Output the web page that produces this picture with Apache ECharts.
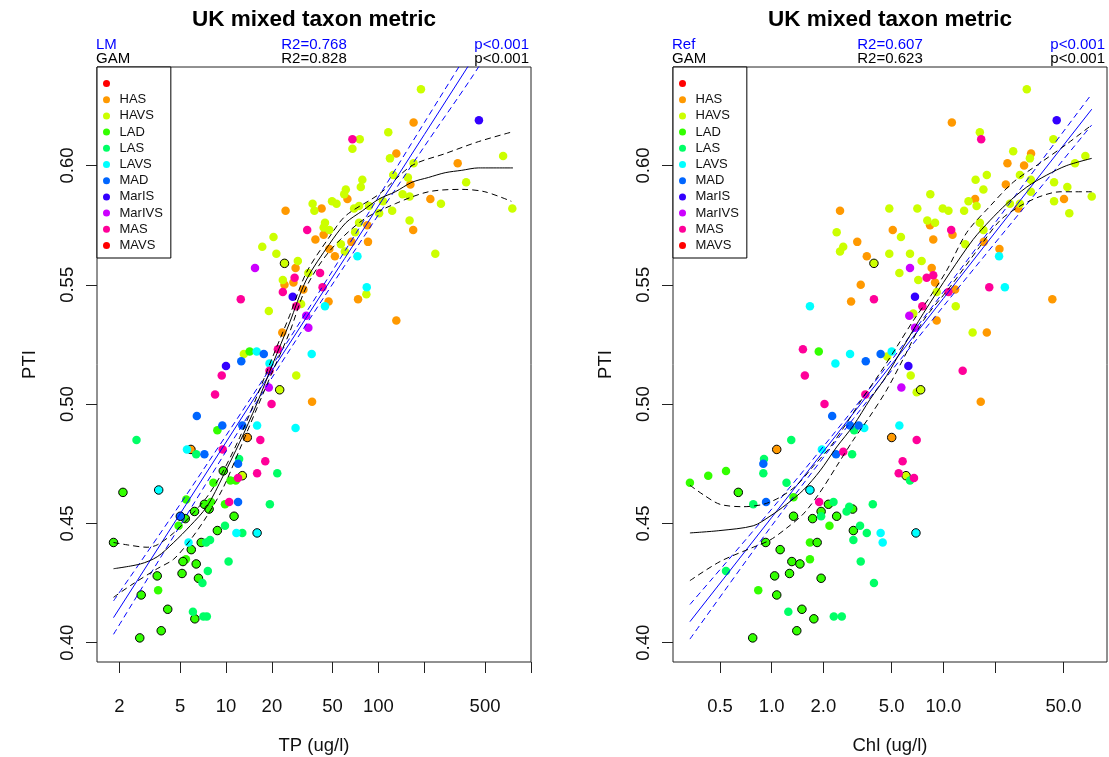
<!DOCTYPE html>
<html><head><meta charset="utf-8">
<script src="https://cdn.jsdelivr.net/npm/echarts@6/dist/echarts.min.js"></script>
<style>html,body{margin:0;padding:0;background:#fff}#c{width:1109px;height:757px}</style>
</head><body><div id="c"></div>
<script>
// ---------- DATA (x in ug/l, PTI, outlined flag) ----------
const groupNames = [' ', 'HAS', 'HAVS', 'LAD', 'LAS', 'LAVS', 'MAD', 'MarIS', 'MarIVS', 'MAS', 'MAVS'];
const groupColors = ['#FF0000', '#FF9900', '#CCFF00', '#33FF00', '#00FF66', '#00FFFF', '#0066FF', '#3300FF', '#CC00FF', '#FF0099', '#FF0000'];

const tpTicks = [2, 5, 10, 20, 50, 100, 200, 500, 1000];
const tpLabels = [2, 5, 10, 20, 50, 100, 500];
const chlTicks = [0.5, 1, 2, 5, 10, 20, 50];
const chlLabels = [0.5, 1, 2, 5, 10, 50];
const ptiTicks = [0.40, 0.45, 0.50, 0.55, 0.60];

// ---- Left panel: TP ----
const tpHAS = [[28.6,0.557],[24.2,0.550],[27.7,0.551],[32.2,0.548],[23.4,0.530],[13.8,0.486,1],[5.89,0.481,1],[170,0.618],[131,0.605],[331,0.601],[162,0.592],[62.6,0.586],[219,0.586],[42.4,0.582],[24.6,0.581],[169,0.573],[84.5,0.575],[43.7,0.571],[38.6,0.569],[66.5,0.568],[85.4,0.568],[47.6,0.565],[51.8,0.562],[73.5,0.544],[47.1,0.543],[131,0.535],[36.7,0.501]];
const tpHAVS = [[24.2,0.559,1],[23.6,0.552],[31.1,0.542],[19.1,0.539],[13.1,0.521],[28.9,0.512],[22.5,0.506,1],[12.8,0.470,1],[190,0.632],[75.4,0.611],[116,0.614],[67.5,0.607],[119,0.603],[657,0.604],[170,0.601],[125,0.596],[156,0.595],[78.4,0.594],[76.6,0.591],[376,0.593],[144,0.588],[160,0.587],[61.1,0.590],[59.6,0.588],[257,0.584],[755,0.582],[49.6,0.585],[53.1,0.584],[37.0,0.584],[38.0,0.581],[69.2,0.582],[74.6,0.583],[86.7,0.583],[107,0.585],[101,0.580],[123,0.581],[160,0.577],[74.6,0.576],[44.6,0.576],[43.7,0.574],[47.6,0.573],[70.3,0.572],[56.7,0.567],[60.2,0.564],[236,0.563],[29.6,0.560],[34.7,0.555],[83.3,0.546],[20.5,0.570],[17.3,0.566],[21.4,0.563]];
const tpLAD = [[14.3,0.522],[8.78,0.489],[9.60,0.472,1],[10.7,0.468],[11.6,0.468],[8.27,0.467],[2.11,0.463,1],[5.49,0.460],[6.22,0.455,1],[7.22,0.458,1],[7.75,0.456,1],[7.98,0.459],[9.85,0.458],[5.41,0.452,1],[4.89,0.449],[11.3,0.453,1],[8.78,0.447,1],[1.83,0.442,1],[5.92,0.439,1],[6.88,0.442,1],[5.46,0.435],[5.22,0.434,1],[6.38,0.433,1],[3.54,0.428,1],[5.15,0.429,1],[6.60,0.427,1],[3.59,0.422],[2.78,0.420,1],[4.15,0.414,1],[6.25,0.410,1],[3.76,0.405,1],[2.72,0.402,1]];
const tpLAS = [[2.59,0.485],[12.2,0.477],[21.7,0.471],[19.4,0.458],[9.85,0.449],[12.8,0.446],[7.41,0.442],[7.86,0.443],[10.4,0.434],[7.60,0.430],[7.01,0.425],[6.07,0.413],[7.11,0.411],[7.49,0.411],[6.38,0.479]];
const tpLAVS = [[15.9,0.522],[19.3,0.517],[16.0,0.491],[28.6,0.490],[5.55,0.481],[3.62,0.464,1],[11.7,0.446],[16.0,0.446,1],[5.68,0.442],[72.8,0.562],[83.8,0.549],[44.6,0.541],[36.5,0.521]];
const tpMAD = [[17.7,0.521],[12.6,0.518],[6.44,0.495],[9.46,0.491],[12.8,0.491],[7.22,0.479],[12.0,0.475],[12.0,0.459],[5.02,0.453,1]];
const tpMarIS = [[27.4,0.545],[10.0,0.516],[456,0.619]];
const tpMarIVS = [[15.5,0.557],[33.6,0.537],[34.7,0.532],[19.1,0.507]];
const tpMAS = [[28.2,0.553],[23.6,0.547],[12.5,0.544],[28.9,0.541],[21.9,0.523],[19.3,0.514],[9.38,0.512],[8.48,0.504],[19.9,0.500],[16.8,0.485],[9.52,0.481],[18.1,0.476],[12.0,0.469],[16.0,0.471],[10.5,0.459],[67.5,0.611],[34.1,0.573],[41.4,0.555],[43.0,0.549]];
const tpMAVS = [];
const tpBlank = [];

const tpGam = [[1.83,0.431],[2.75,0.433],[3.54,0.436],[4.54,0.442],[5.83,0.449],[7.49,0.457],[9.60,0.470],[12.3,0.484],[15.9,0.500],[20.3,0.517],[26.1,0.534],[33.6,0.552],[47.6,0.567],[61.1,0.576],[78.4,0.581],[101,0.586],[129,0.589],[166,0.593],[213,0.595],[274,0.597],[352,0.598],[452,0.599],[763,0.599]];
const tpGamUpper = [[1.83,0.442],[2.25,0.441],[3.04,0.440],[3.54,0.441],[4.54,0.446],[5.83,0.453],[7.49,0.461],[9.60,0.472],[12.3,0.486],[15.9,0.503],[20.3,0.520],[26.1,0.537],[33.6,0.555],[47.6,0.570],[61.1,0.579],[101,0.588],[166,0.600],[274,0.605],[452,0.610],[744,0.614]];
const tpGamLower = [[1.83,0.419],[2.37,0.424],[3.54,0.431],[4.54,0.435],[5.83,0.443],[7.49,0.453],[9.60,0.465],[12.3,0.481],[15.9,0.498],[20.3,0.514],[26.1,0.530],[33.6,0.549],[47.6,0.564],[78.4,0.577],[129,0.584],[213,0.589],[352,0.590],[499,0.589],[744,0.585]];
const tpLm = [[1.83,0.4105],[5,0.454],[20,0.514],[60,0.561],[200,0.613],[400,0.643]];
const tpLmUpper = [[1.83,0.4175],[5,0.458],[20,0.516],[60,0.564],[200,0.618],[400,0.649]];
const tpLmLower = [[1.83,0.4035],[5,0.449],[20,0.511],[60,0.558],[200,0.608],[400,0.636],[700,0.660]];

// ---- Right panel: Chl ----
const chlHAS = [[3.58,0.562],[8.55,0.557],[8.94,0.551],[3.30,0.550],[2.90,0.543],[9.14,0.535],[5.00,0.486,1],[1.07,0.481,1],[11.2,0.618],[32.4,0.605],[23.6,0.601],[29.5,0.600],[23.1,0.592],[15.3,0.586],[50.4,0.586],[27.3,0.582],[2.50,0.581],[8.36,0.575],[5.07,0.573],[11.3,0.571],[3.15,0.568],[8.73,0.569],[17.2,0.568],[21.2,0.565],[11.7,0.548],[43.1,0.544],[17.9,0.530],[16.5,0.501]];
const chlHAVS = [[3.94,0.559,1],[4.84,0.563],[6.39,0.563],[7.47,0.560],[5.54,0.555],[7.14,0.552],[9.14,0.547],[6.68,0.538],[4.71,0.520],[6.45,0.512],[6.99,0.505],[7.37,0.506,1],[6.06,0.470,1],[2.50,0.564],[2.61,0.566],[2.39,0.572],[30.6,0.632],[16.3,0.614],[43.7,0.611],[25.5,0.606],[31.9,0.603],[58.4,0.601],[67.1,0.604],[27.9,0.596],[17.9,0.596],[15.4,0.594],[32.3,0.594],[44.1,0.593],[52.7,0.591],[17.1,0.590],[8.39,0.588],[32.3,0.589],[73.1,0.587],[14.0,0.585],[24.4,0.584],[27.9,0.584],[44.1,0.585],[4.84,0.582],[7.05,0.582],[9.91,0.582],[10.7,0.581],[13.2,0.581],[15.6,0.583],[54.1,0.580],[8.06,0.577],[8.94,0.576],[16.3,0.576],[17.1,0.573],[5.66,0.570],[13.4,0.567],[11.8,0.541],[14.8,0.530]];
const chlLAD = [[1.88,0.522],[0.334,0.467],[0.427,0.470],[0.542,0.472],[0.639,0.463,1],[1.34,0.461],[2.14,0.458,1],[1.94,0.455,1],[2.96,0.456,1],[1.34,0.453,1],[1.73,0.452,1],[2.39,0.453,1],[2.17,0.449],[2.99,0.447,1],[0.923,0.442,1],[1.67,0.442],[1.84,0.442,1],[1.12,0.439,1],[1.31,0.434,1],[1.46,0.433,1],[1.67,0.435],[1.04,0.428,1],[1.27,0.429,1],[1.94,0.427,1],[0.835,0.422],[1.07,0.420,1],[1.50,0.414,1],[1.76,0.410,1],[1.40,0.405,1],[0.775,0.402,1]];
const chlLAS = [[3.02,0.489],[1.30,0.485],[0.902,0.477],[2.94,0.479],[0.894,0.471],[1.22,0.467],[6.39,0.468],[0.781,0.458],[2.29,0.459],[1.94,0.453],[2.83,0.457],[2.73,0.455],[3.88,0.458],[3.27,0.449],[3.58,0.446],[2.99,0.443],[0.542,0.430],[3.30,0.434],[3.94,0.425],[1.25,0.413],[2.30,0.411],[2.56,0.411]];
const chlLAVS = [[1.67,0.541],[2.86,0.521],[2.35,0.517],[5.00,0.522],[3.46,0.490],[5.54,0.491],[1.96,0.481],[1.67,0.464,1],[4.31,0.446],[4.43,0.442],[6.92,0.446,1],[21.1,0.562],[22.8,0.549]];
const chlMAD = [[3.53,0.518],[4.31,0.521],[2.25,0.495],[2.86,0.491],[3.21,0.491],[0.894,0.475],[2.37,0.479],[0.927,0.459]];
const chlMarIS = [[6.83,0.545],[6.25,0.516],[45.7,0.619]];
const chlMarIVS = [[6.39,0.557],[6.33,0.537],[6.83,0.532],[5.69,0.507]];
const chlMAS = [[7.99,0.553],[8.73,0.554],[3.94,0.544],[10.7,0.547],[7.54,0.541],[1.52,0.523],[1.56,0.512],[3.51,0.504],[2.03,0.500],[6.99,0.485],[2.61,0.480],[5.79,0.476],[5.49,0.471],[6.74,0.469],[1.89,0.459],[16.6,0.611],[11.1,0.573],[18.5,0.549],[12.95,0.514]];
const chlMAVS = [];
const chlBlank = [];

const chlGam = [[0.334,0.446],[0.5,0.447],[0.781,0.449],[0.977,0.453],[1.22,0.458],[1.53,0.464],[1.91,0.472],[2.39,0.482],[2.99,0.491],[3.74,0.502],[4.68,0.512],[5.84,0.524],[7.64,0.538],[10.9,0.555],[14.9,0.569],[18.7,0.577],[23.4,0.584],[30.6,0.591],[40.0,0.596],[52.3,0.600],[73.1,0.603]];
const chlGamUpper = [[0.334,0.466],[0.40,0.462],[0.5,0.458],[0.683,0.457],[0.894,0.458],[1.12,0.461],[1.40,0.466],[1.75,0.474],[2.19,0.482],[2.73,0.492],[3.42,0.503],[4.27,0.513],[5.35,0.524],[6.68,0.535],[8.36,0.545],[10.45,0.556],[13.7,0.572],[18.7,0.583],[25.5,0.593],[36.5,0.601],[52.3,0.609],[73.1,0.617]];
const chlGamLower = [[0.334,0.426],[0.5,0.434],[0.781,0.440],[0.977,0.443],[1.22,0.448],[1.53,0.454],[1.91,0.463],[2.39,0.474],[2.99,0.485],[3.74,0.495],[4.68,0.506],[5.84,0.519],[7.64,0.535],[10.9,0.549],[16.3,0.566],[21.4,0.577],[27.9,0.583],[36.5,0.587],[47.8,0.589],[57.1,0.589],[73.1,0.589]];
const chlLm = [[0.334,0.4088],[1,0.4525],[3,0.4963],[10,0.5443],[30,0.5881],[73.1,0.6236]];
const chlLmUpper = [[0.334,0.416],[1,0.456],[3,0.498],[10,0.547],[30,0.593],[73.1,0.630]];
const chlLmLower = [[0.334,0.4015],[1,0.449],[3,0.494],[10,0.541],[30,0.583],[73.1,0.617]];

const headers = [
  {model: 'LM', r2: 'R2=0.768', p: 'p<0.001', gam: 'GAM', gr2: 'R2=0.828', gp: 'p<0.001'},
  {model: 'Ref', r2: 'R2=0.607', p: 'p<0.001', gam: 'GAM', gr2: 'R2=0.623', gp: 'p<0.001'}
];
const titleText = 'UK mixed taxon metric';
const xNames = ['TP (ug/l)', 'Chl (ug/l)'];
const yName = 'PTI';

// ---------- BUILD ----------
const FONT = '"Liberation Sans", Arial, Helvetica, sans-serif';
const panelPoints = [
  [tpBlank, tpHAS, tpHAVS, tpLAD, tpLAS, tpLAVS, tpMAD, tpMarIS, tpMarIVS, tpMAS, tpMAVS],
  [chlBlank, chlHAS, chlHAVS, chlLAD, chlLAS, chlLAVS, chlMAD, chlMarIS, chlMarIVS, chlMAS, chlMAVS]
];
const panelLines = [
  {gam: tpGam, gu: tpGamUpper, gl: tpGamLower, lm: tpLm, lu: tpLmUpper, ll: tpLmLower},
  {gam: chlGam, gu: chlGamUpper, gl: chlGamLower, lm: chlLm, lu: chlLmUpper, ll: chlLmLower}
];
const L = Math.log10;
const grids = [{left: 97, top: 67, width: 434, height: 595}, {left: 673, top: 67, width: 434, height: 595}];
const xExt = [[0.1541, 3.0005], [-0.5748, 1.9528]];
const yExt = [0.3919, 0.6413];

const series = [];
panelPoints.forEach((groups, pi) => {
  groups.forEach((arr, gi) => {
    series.push({
      type: 'scatter', name: groupNames[gi], xAxisIndex: pi, yAxisIndex: pi,
      symbol: 'circle', symbolSize: 8.5, z: 2,
      itemStyle: {color: groupColors[gi], opacity: 1},
      emphasis: {disabled: true},
      data: arr.map(p => p[2]
        ? {value: [L(p[0]), p[1]], itemStyle: {borderColor: '#000', borderWidth: 1}}
        : {value: [L(p[0]), p[1]]})
    });
  });
});
function lineSer(arr, pi, color, dashed, smooth) {
  return {
    type: 'line', xAxisIndex: pi, yAxisIndex: pi, symbol: 'none', showSymbol: false,
    smooth: smooth ? 0.3 : false, clip: true, silent: true, z: 5,
    lineStyle: {color: color, width: 1, type: dashed ? [6, 4] : 'solid'},
    data: arr.map(p => [L(p[0]), p[1]])
  };
}
panelLines.forEach((ln, pi) => {
  series.push(lineSer(ln.lm, pi, '#0000FF', false, false));
  series.push(lineSer(ln.lu, pi, '#0000FF', true, true));
  series.push(lineSer(ln.ll, pi, '#0000FF', true, true));
  series.push(lineSer(ln.gam, pi, '#000000', false, true));
  series.push(lineSer(ln.gu, pi, '#000000', true, true));
  series.push(lineSer(ln.gl, pi, '#000000', true, true));
});

const xTickSets = [[tpTicks, tpLabels, v => String(Math.round(Math.pow(10, v)))],
                   [chlTicks, chlLabels, v => Math.pow(10, v).toFixed(1)]];
const xAxes = xTickSets.map((t, i) => ({
  type: 'value', gridIndex: i, min: xExt[i][0], max: xExt[i][1], position: 'bottom',
  name: xNames[i], nameLocation: 'middle', nameGap: 74,
  nameTextStyle: {fontFamily: FONT, fontSize: 18.5, color: '#111'},
  axisLine: {show: false, onZero: false}, splitLine: {show: false},
  axisTick: {show: true, inside: false, length: 11, lineStyle: {color: '#222', width: 1}, customValues: t[0].map(L)},
  axisLabel: {show: true, margin: 35, fontFamily: FONT, fontSize: 18.5, color: '#111', customValues: t[1].map(L), formatter: t[2]}
}));
const yAxes = [0, 1].map(i => ({
  type: 'value', gridIndex: i, min: yExt[0], max: yExt[1], position: 'left',
  name: yName, nameLocation: 'middle', nameGap: 58, nameRotate: 90,
  nameTextStyle: {fontFamily: FONT, fontSize: 18.5, color: '#111'},
  axisLine: {show: false, onZero: false}, splitLine: {show: false},
  axisTick: {show: true, inside: false, length: 11, lineStyle: {color: '#222', width: 1}, customValues: ptiTicks},
  axisLabel: {show: true, rotate: 90, margin: 20, fontFamily: FONT, fontSize: 18.5, color: '#111', customValues: ptiTicks, formatter: v => v.toFixed(2)}
}));

const legends = grids.map(g => ({
  orient: 'vertical', left: g.left, top: g.top, data: groupNames,
  icon: 'circle', itemWidth: 12, itemHeight: 7, itemGap: 3.2,
  padding: [10, 8, 6, 6], borderColor: '#000', borderWidth: 1, borderRadius: 0,
  backgroundColor: '#fff', selectedMode: false,
  textStyle: {fontFamily: FONT, fontSize: 13, color: '#111', padding: [0, 0, 0, 2]}
}));

const graphic = [];
grids.forEach((g, i) => {
  const cx = g.left + g.width / 2, rx = g.left + g.width - 2, lx = g.left - 1;
  const h = headers[i];
  graphic.push({type: 'text', x: cx, y: 20, style: {text: titleText, font: 'bold 22.5px ' + FONT, fill: '#000', align: 'center', verticalAlign: 'middle'}});
  const row = (y, a, b, c, col) => {
    graphic.push({type: 'text', x: lx, y: y, style: {text: a, font: '15px ' + FONT, fill: col, align: 'left', verticalAlign: 'middle'}});
    graphic.push({type: 'text', x: cx, y: y, style: {text: b, font: '15px ' + FONT, fill: col, align: 'center', verticalAlign: 'middle'}});
    graphic.push({type: 'text', x: rx, y: y, style: {text: c, font: '15px ' + FONT, fill: col, align: 'right', verticalAlign: 'middle'}});
  };
  row(45, h.model, h.r2, h.p, '#0000FF');
  row(58.5, h.gam, h.gr2, h.gp, '#000000');
});

const chart = echarts.init(document.getElementById('c'), null, {renderer: 'canvas'});
chart.setOption({
  animation: false,
  backgroundColor: '#fff',
  grid: grids.map(g => Object.assign({show: true, borderColor: '#222', borderWidth: 1, backgroundColor: 'transparent', containLabel: false, outerBoundsMode: 'none'}, g)),
  xAxis: xAxes,
  yAxis: yAxes,
  legend: legends,
  graphic: graphic,
  series: series
});
</script>
</body></html>
